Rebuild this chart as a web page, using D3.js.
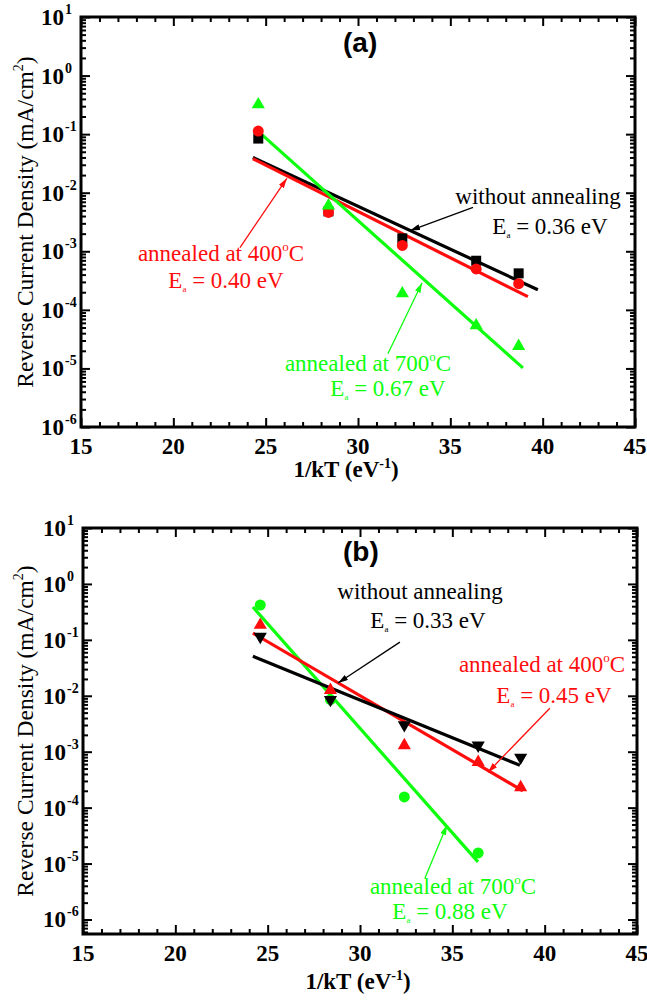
<!DOCTYPE html>
<html>
<head>
<meta charset="utf-8">
<script src="https://cdn.jsdelivr.net/npm/d3@7"></script>
<style>
  body { margin: 0; background: #fff; }
  text { font-family: "Liberation Serif", "Times New Roman", serif; }
</style>
</head>
<body>
<svg id="chart" width="647" height="1001"></svg>
<script>
// 1/kT values (eV^-1) shared by both panels
var invKT = [24.6, 28.4, 32.4, 36.4, 38.7];

// panel (a) reverse current density, mA/cm2
var aNoAnneal = [0.084, 0.0048, 1.66e-3, 6.9e-4, 4.2e-4];
var a400 = [0.113, 4.6e-3, 1.26e-3, 5.0e-4, 2.8e-4];
var a700 = [0.32, 6.0e-3, 1.9e-4, 5.4e-5, 2.4e-5];
// fitted lines, [x0, y0, x1, y1]
var aFitNoAnneal = [24.31, 0.040, 39.74, 2.2e-4];
var aFit400 = [24.31, 0.038, 39.2, 1.68e-4];
var aFit700 = [24.7, 0.104, 38.93, 1.02e-5];

// panel (b)
var bNoAnneal = [0.114, 8.5e-3, 3.0e-3, 1.3e-3, 7.9e-4];
var b400 = [0.184, 0.0126, 1.3e-3, 6.5e-4, 2.3e-4];
var b700 = [0.42, 8.5e-3, 1.55e-4, 1.55e-5];
var bFitNoAnneal = [24.2, 0.051, 38.66, 5.7e-4];
var bFit400 = [24.2, 0.132, 38.82, 2.0e-4];
var bFit700 = [24.2, 0.386, 36.39, 1.07e-5];

var xTicks = [15, 20, 25, 30, 35, 40, 45];
var yPowers = [-6, -5, -4, -3, -2, -1, 0, 1];

var red = "#ff0d0d", green = "#0dff0d", black = "#000";

var svg = d3.select("#chart");

var defs = svg.append("defs");
[["black", black], ["red", red], ["green", green]].forEach(function(c) {
  defs.append("marker")
      .attr("id", "arrow-" + c[0])
      .attr("markerUnits", "userSpaceOnUse")
      .attr("markerWidth", 10).attr("markerHeight", 6)
      .attr("refX", 10).attr("refY", 3)
      .attr("orient", "auto")
    .append("path")
      .attr("d", "M0,0L10,3L0,6Z")
      .attr("fill", c[1]);
});

var panels = [
  {
    box: {left: 81, right: 635, top: 17, bottom: 427},
    yDomain: [1e-6, 10],
    tag: "(a)", tagX: 343, tagY: 52,
    xLabelX: 346, xLabelY: 477,
    series: [
      {vals: aNoAnneal, color: black, shape: "square", fit: aFitNoAnneal},
      {vals: a400, color: red, shape: "circle", fit: aFit400},
      {vals: a700, color: green, shape: "triangle", fit: aFit700}
    ],
    notes: [
      {text: "without annealing", ea: "0.36", color: black, cx: [538, 550], by: [204, 234]},
      {text: "annealed at 400", ea: "0.40", color: red, cx: [221, 226], by: [261, 288]},
      {text: "annealed at 700", ea: "0.67", color: green, cx: [368, 388], by: [371, 396]}
    ],
    arrows: [
      {from: [36.23, 5.6e-3], to: [32.82, 2.26e-3], color: "black"},
      {from: [23.61, 1.16e-3], to: [26.15, 0.0176], color: "red"},
      {from: [31.62, 1.78e-5], to: [33.47, 2.9e-4], color: "green"}
    ]
  },
  {
    box: {left: 83, right: 637, top: 528, bottom: 934},
    yDomain: [5.5e-7, 10],
    tag: "(b)", tagX: 343, tagY: 561,
    xLabelX: 358, xLabelY: 989,
    series: [
      {vals: b700, color: green, shape: "circle", fit: bFit700},
      {vals: b400, color: red, shape: "triangle", fit: bFit400},
      {vals: bNoAnneal, color: black, shape: "down", fit: bFitNoAnneal}
    ],
    notes: [
      {text: "without annealing", ea: "0.33", color: black, cx: [420, 428], by: [599, 628]},
      {text: "annealed at 400", ea: "0.45", color: red, cx: [542, 554], by: [672, 703]},
      {text: "annealed at 700", ea: "0.88", color: green, cx: [453, 450], by: [894, 919]}
    ],
    arrows: [
      {from: [32.16, 0.091], to: [28.81, 0.0169], color: "black"},
      {from: [40.28, 6.0e-3], to: [36.93, 4.3e-4], color: "red"},
      {from: [33.52, 5.5e-6], to: [34.71, 4.9e-5], color: "green"}
    ]
  }
];

var symbols = {
  square: d3.symbol().type(d3.symbolSquare).size(100),
  circle: d3.symbol().type(d3.symbolCircle).size(95),
  triangle: d3.symbol().type(d3.symbolTriangle).size(75),
  down: d3.symbol().type(d3.symbolTriangle).size(75)
};

var colorOf = {black: black, red: red, green: green};

panels.forEach(drawPanel);

function drawPanel(p) {
  var b = p.box;
  var x = d3.scaleLinear().domain([15, 45]).range([b.left, b.right]);
  var y = d3.scaleLog().domain(p.yDomain).range([b.bottom, b.top]);
  var g = svg.append("g");

  var majorY = yPowers.map(function(k) { return Math.pow(10, k); });
  var minorY = y.ticks().filter(function(v) {
    var l = Math.log10(v);
    return Math.abs(l - Math.round(l)) > 1e-6;
  });
  var minorX = d3.range(15, 46, 1).filter(function(v) { return v % 5 !== 0; });

  function ticks(axisFn, scale, values, size, transform) {
    var a = g.append("g")
        .attr("transform", transform)
        .call(axisFn(scale).tickValues(values).tickSize(-size).tickFormat(""));
    a.select(".domain").remove();
    a.selectAll("line").attr("stroke", "#000").attr("stroke-width", 2);
  }

  ticks(d3.axisLeft, y, majorY, 9, "translate(" + b.left + ",0)");
  ticks(d3.axisLeft, y, minorY, 5, "translate(" + b.left + ",0)");
  ticks(d3.axisRight, y, majorY, 9, "translate(" + b.right + ",0)");
  ticks(d3.axisRight, y, minorY, 5, "translate(" + b.right + ",0)");
  ticks(d3.axisBottom, x, xTicks, 9, "translate(0," + b.bottom + ")");
  ticks(d3.axisBottom, x, minorX, 5, "translate(0," + b.bottom + ")");
  ticks(d3.axisTop, x, xTicks, 9, "translate(0," + b.top + ")");
  ticks(d3.axisTop, x, minorX, 5, "translate(0," + b.top + ")");

  g.append("rect")
      .attr("x", b.left).attr("y", b.top)
      .attr("width", b.right - b.left).attr("height", b.bottom - b.top)
      .attr("fill", "none").attr("stroke", "#000").attr("stroke-width", 3);

  // y tick labels: 10^k
  var yl = g.selectAll(".ylab").data(majorY).enter().append("g")
      .attr("transform", function(d) { return "translate(0," + y(d) + ")"; });
  yl.append("text")
      .attr("x", b.left - 17).attr("y", 8)
      .attr("text-anchor", "end")
      .attr("font-size", 23).attr("font-weight", "bold")
      .text("10");
  yl.append("text")
      .attr("x", b.left - 16).attr("y", -3)
      .attr("font-size", 14).attr("font-weight", "bold")
      .text(function(d) { return Math.round(Math.log10(d)); });

  // x tick labels
  g.selectAll(".xlab").data(xTicks).enter().append("text")
      .attr("x", function(d) { return x(d); })
      .attr("y", b.bottom + 27)
      .attr("text-anchor", "middle")
      .attr("font-size", 23).attr("font-weight", "bold")
      .text(function(d) { return d; });

  // axis titles
  var xt = g.append("text")
      .attr("x", p.xLabelX).attr("y", p.xLabelY)
      .attr("text-anchor", "middle")
      .attr("font-size", 23).attr("font-weight", "bold");
  xt.append("tspan").text("1/kT (eV");
  xt.append("tspan").attr("font-size", 14).attr("dy", -9).text("-1");
  xt.append("tspan").attr("dy", 9).text(")");

  var yt = g.append("text")
      .attr("transform", "translate(33," + (b.top + b.bottom) / 2 + ") rotate(-90)")
      .attr("text-anchor", "middle")
      .attr("font-size", 23.5);
  yt.append("tspan").text("Reverse Current Density (mA/cm");
  yt.append("tspan").attr("font-size", 14).attr("dy", -10).text("2");
  yt.append("tspan").attr("dy", 10).text(")");

  g.append("text")
      .attr("x", p.tagX).attr("y", p.tagY)
      .style("font-family", "'Liberation Sans', Arial, sans-serif")
      .attr("font-size", 28).attr("font-weight", "bold")
      .text(p.tag);

  var line = d3.line()
      .x(function(d) { return x(d[0]); })
      .y(function(d) { return y(d[1]); });

  // fitted lines
  p.series.forEach(function(s) {
    var f = s.fit;
    g.append("path")
        .datum([[f[0], f[1]], [f[2], f[3]]])
        .attr("d", line)
        .attr("stroke", s.color).attr("stroke-width", 3.2)
        .attr("fill", "none");
  });

  // data points
  p.series.forEach(function(s) {
    g.selectAll(null).data(s.vals).enter().append("path")
        .attr("d", symbols[s.shape])
        .attr("transform", function(d, i) {
          return "translate(" + x(invKT[i]) + "," + y(d) + ")" +
            (s.shape === "down" ? " rotate(180)" : "");
        })
        .attr("fill", s.color);
  });

  // annotations
  p.notes.forEach(function(n) {
    var t1 = g.append("text")
        .attr("x", n.cx[0]).attr("y", n.by[0])
        .attr("text-anchor", "middle")
        .attr("font-size", 23).attr("fill", n.color);
    t1.append("tspan").text(n.text);
    if (n.text.indexOf("annealed") === 0) {
      t1.append("tspan").attr("font-size", 13).attr("dy", -10).text("o");
      t1.append("tspan").attr("dy", 10).text("C");
    }
    var t2 = g.append("text")
        .attr("x", n.cx[1]).attr("y", n.by[1])
        .attr("text-anchor", "middle")
        .attr("font-size", 23).attr("fill", n.color);
    t2.append("tspan").text("E");
    t2.append("tspan").attr("font-size", 9).attr("dy", 4).text("a");
    t2.append("tspan").attr("dy", -4).text(" = " + n.ea + " eV");
  });

  p.arrows.forEach(function(a) {
    g.append("line")
        .attr("x1", x(a.from[0])).attr("y1", y(a.from[1]))
        .attr("x2", x(a.to[0])).attr("y2", y(a.to[1]))
        .attr("stroke", colorOf[a.color])
        .attr("stroke-width", 1.3)
        .attr("marker-end", "url(#arrow-" + a.color + ")");
  });
}
</script>
</body>
</html>
